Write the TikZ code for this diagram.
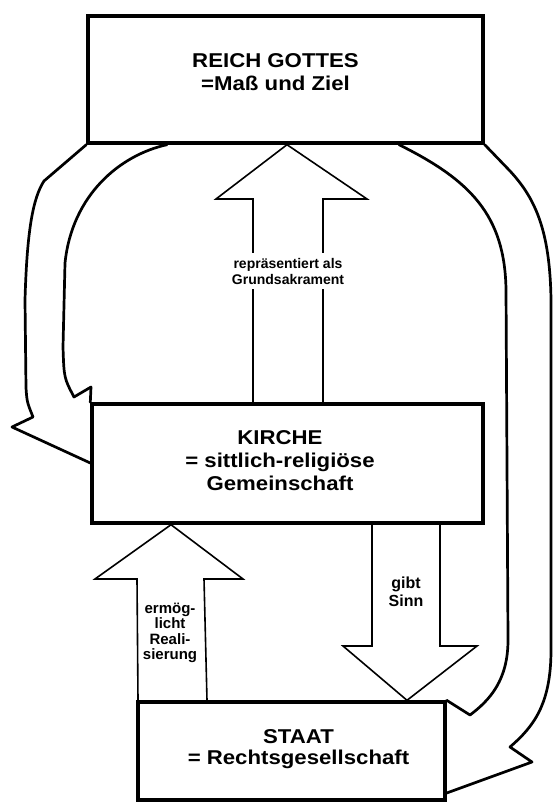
\documentclass[tikz,border=0pt]{standalone}
\usepackage{fontspec}
\setmainfont{Liberation Sans}
\newfontfamily\widesans[FakeStretch=1.11]{Liberation Sans}
\begin{document}
\begin{tikzpicture}[x=1pt,y=-1pt,
  box/.style={draw, line width=3.4pt, fill=white, inner sep=0pt},
  maintext/.style={font=\widesans\fontsize{20}{23}\selectfont\bfseries, align=center, inner sep=0pt},
  lbl/.style={font=\fontsize{14}{16}\selectfont\bfseries, align=center},
  blockarrow/.style={draw, line width=1.6pt, line join=miter},
  curvearrow/.style={draw, line width=2.7pt, line join=round, line cap=round}]
\useasboundingbox (0,0) rectangle (553,802);
% boxes
\node[box, minimum width=395pt, minimum height=127pt] (reich) at (285.5,79.5) {};
\node[maintext] (reichT) at (275.5,72.5) {REICH GOTTES\\=Maß und Ziel};
\node[box, minimum width=391pt, minimum height=119pt] (kirche) at (287.5,463.5) {};
\node[maintext] (kircheT) at (280,461) {KIRCHE\\= sittlich-religiöse\\Gemeinschaft};
\node[box, minimum width=307pt, minimum height=98pt] (staat) at (291.5,751) {};
\node[maintext, font=\widesans\fontsize{20}{21}\selectfont\bfseries] (staatT) at (298.5,749) {STAAT\\= Rechtsgesellschaft};
% curved arrows
\draw[curvearrow] (reich.south west) -- (44,181) .. controls (33,198) and (27,230) .. (25,300) -- (26,388) .. controls (27,402) .. (33,417) -- (12,427) -- (kirche.west |- 0,463);
\draw[curvearrow] (167,0 |- reich.south) .. controls (120,155) and (72,195) .. (65,263) -- (63,347) .. controls (64,378) .. (74,397) -- (91,387) -- (kirche.north west);
\draw[curvearrow] (reich.south east) -- (510,171) .. controls (535,198) and (550,230) .. (551,300) -- (551,650) .. controls (551,705) and (533,727) .. (510,747) -- (532,762) -- (staat.east |- 0,793);
\draw[curvearrow] (399,0 |- reich.south) .. controls (470,180) and (505,215) .. (506,290) -- (508,640) .. controls (508,680) and (490,700) .. (470,715) -- (staat.north east);
% block arrows
\draw[blockarrow] (253,0 |- kirche.north) -- (253,199) -- (216,199) -- (287,0 |- reich.south) -- (367,199) -- (323,199) -- (323,0 |- kirche.north);
\draw[blockarrow] (138,0 |- staat.north) -- (137,579) -- (95,579) -- (171,0 |- kirche.south) -- (243,579) -- (204,579) -- (207,0 |- staat.north);
\draw[blockarrow] (372,0 |- kirche.south) -- (372,646) -- (343,646) -- (407,0 |- staat.north) -- (477,646) -- (440,646) -- (440,0 |- kirche.south);
% labels
\node[lbl, fill=white, inner xsep=2pt, inner ysep=5pt] (l1) at (288,271) {repräsentiert als\\Grundsakrament};
\node[font=\fontsize{15}{15.4}\selectfont\bfseries, align=center, inner sep=0pt] (l2) at (170,633) {ermög-\\licht\\Reali-\\sierung};
\node[font=\fontsize{16}{18}\selectfont\bfseries, align=center, inner sep=0pt] (l3) at (406,592) {gibt\\Sinn};
\end{tikzpicture}
\end{document}
